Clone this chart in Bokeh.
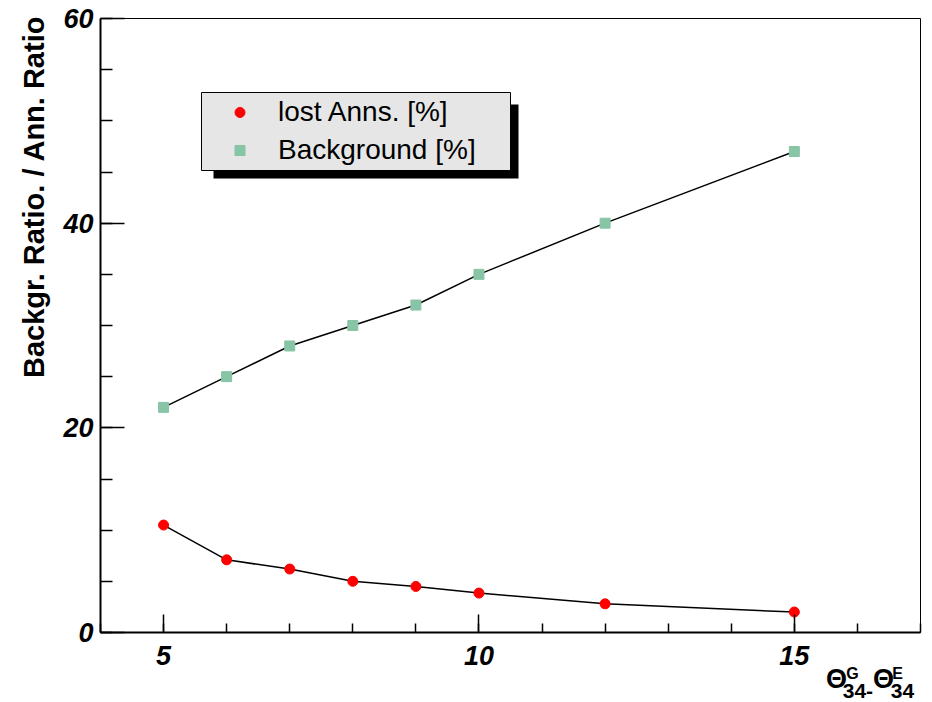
import math

from bokeh.plotting import figure
from bokeh.models import (FixedTicker, Range1d, BoxAnnotation, Legend,
                          LegendItem, ColumnDataSource, Title, LinearAxis)
from bokeh.embed import file_html
from bokeh.resources import INLINE

# Angular cut Theta34(G) - Theta34(E) in degrees
theta_cut = [5, 6, 7, 8, 9, 10, 12, 15]
# Fraction of lost annihilations [%]
lost_anns = [10.5, 7.1, 6.2, 5.0, 4.5, 3.85, 2.8, 2.0]
# Background fraction [%]
background = [22.0, 25.0, 28.0, 30.0, 32.0, 35.0, 40.0, 47.0]

x_major = [5, 10, 15]
x_minor = list(range(4, 18))
y_major = [0, 20, 40, 60]
y_minor = list(range(0, 61, 5))

X_START, X_END = 4, 17
FRAME_LEFT, FRAME_W = 100, 820
FONT = "Liberation Sans"

src = ColumnDataSource(dict(x=theta_cut, lost=lost_anns, bg=background))

p = figure(width=932, height=702,
           x_range=Range1d(X_START, X_END), y_range=Range1d(0, 60),
           output_backend="svg", toolbar_location=None,
           min_border_left=FRAME_LEFT, min_border_right=12,
           min_border_top=18, min_border_bottom=70,
           background_fill_color="white", border_fill_color="white")

p.grid.visible = False
p.outline_line_color = "black"
p.outline_line_width = 1

# axes with ticks drawn inward, ROOT style
p.xaxis.ticker = FixedTicker(ticks=x_major, minor_ticks=x_minor)
p.yaxis.ticker = FixedTicker(ticks=y_major, minor_ticks=y_minor)
for ax in (p.xaxis, p.yaxis):
    ax.axis_line_width = 2
    ax.axis_line_color = "black"
    ax.major_tick_out = 0
    ax.minor_tick_out = 0
    ax.major_tick_line_color = "black"
    ax.minor_tick_line_color = "black"
    ax.major_tick_line_width = 1.5
    ax.minor_tick_line_width = 1.5
    ax.major_label_text_font = FONT
    ax.major_label_text_font_style = "bold italic"
    ax.major_label_text_font_size = "27px"
    ax.major_label_text_color = "black"
p.xaxis.major_tick_in = 18
p.xaxis.minor_tick_in = 9
p.xaxis.major_label_standoff = 13
p.yaxis.major_tick_in = 24
p.yaxis.minor_tick_in = 12
p.yaxis.major_label_standoff = 7

# connecting lines
p.line("x", "lost", source=src, line_color="black", line_width=1.5)
p.line("x", "bg", source=src, line_color="black", line_width=1.5)

# markers
r_lost = p.scatter("x", "lost", source=src, marker="circle", size=10,
                   fill_color="#ff0000", line_color="#ff0000")
r_bg = p.scatter("x", "bg", source=src, marker="square", size=10,
                 fill_color="#88c4a6", line_color="#88c4a6")

# legend frame with drop shadow
shadow = BoxAnnotation(left=113, right=418, bottom=454, top=528,
                       left_units="screen", right_units="screen",
                       bottom_units="screen", top_units="screen",
                       fill_color="black", fill_alpha=1.0, line_alpha=0,
                       level="underlay")
box = BoxAnnotation(left=101, right=410, bottom=462, top=540,
                    left_units="screen", right_units="screen",
                    bottom_units="screen", top_units="screen",
                    fill_color="#e6e6e6", fill_alpha=1.0,
                    line_color="black", line_width=1, line_alpha=1.0,
                    level="underlay")
p.add_layout(shadow)
p.add_layout(box)

legend = Legend(items=[LegendItem(label="lost Anns. [%]", renderers=[r_lost]),
                       LegendItem(label="Background [%]", renderers=[r_bg])],
                location=(127, 463), padding=0, spacing=0, margin=0,
                glyph_width=25, glyph_height=38, label_height=38,
                label_standoff=26, label_text_font=FONT,
                label_text_font_size="28px", label_text_color="black",
                background_fill_alpha=0, border_line_alpha=0)
p.add_layout(legend)

# y-axis title, aligned to the top end of the axis
p.add_layout(Title(text="Backgr. Ratio. / Ann. Ratio", align="right",
                   text_font=FONT, text_font_style="bold",
                   text_font_size="29px", text_color="black",
                   standoff=22, offset=-3), "left")


# x-axis title Theta^G_34 - Theta^E_34, set at the right end below the axis.
# It is built from three label-only axes (superscripts, main symbols,
# subscripts) so that the pieces can sit at different heights.
def px_to_x(px):
    return round(X_START + (px - FRAME_LEFT) * (X_END - X_START) / FRAME_W, 3)


def title_row(labels, font_size, style, standoff):
    ticks = [px_to_x(px) for px, _ in labels]
    ax = LinearAxis(ticker=FixedTicker(ticks=ticks, minor_ticks=[]),
                    major_label_overrides={t: s for t, (_, s) in zip(ticks, labels)},
                    axis_line_color=None, major_tick_line_color=None,
                    minor_tick_line_color=None, major_tick_in=0,
                    major_tick_out=0, minor_tick_in=0, minor_tick_out=0,
                    major_label_standoff=standoff,
                    major_label_text_font=FONT,
                    major_label_text_font_style=style,
                    major_label_text_font_size=font_size,
                    major_label_text_color="black")
    p.add_layout(ax, "below")


title_row([(852, "G"), (897, "E")], "16px", "bold", -3)
title_row([(836, "\u0398"), (883, "\u0398")], "27px", "bold", -21)
title_row([(854, "34"), (869, "-"), (902, "34")], "21px", "bold", -13)

open("out.html", "w").write(file_html(p, INLINE))
